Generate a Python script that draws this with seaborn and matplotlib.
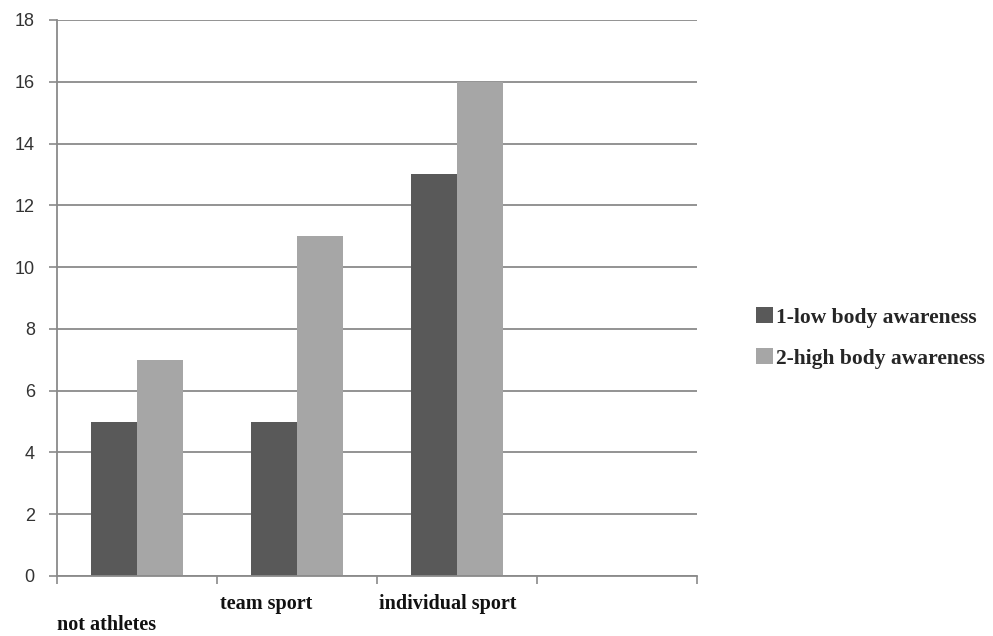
import matplotlib
matplotlib.use("Agg")
import matplotlib.pyplot as plt
import seaborn as sns
import pandas as pd

categories = ["not athletes", "team sport", "individual sport"]
low_awareness = [5, 5, 13]
high_awareness = [7, 11, 16]
series_names = ["1-low body awareness", "2-high body awareness"]
y_ticks = [0, 2, 4, 6, 8, 10, 12, 14, 16, 18]

df = pd.DataFrame({
    "group": categories * 2,
    "count": low_awareness + high_awareness,
    "awareness": [series_names[0]] * 3 + [series_names[1]] * 3,
})

sns.set_theme(style="white")
plt.rcParams["font.family"] = ["DejaVu Sans"]

fig = plt.figure(figsize=(9.93, 6.36), dpi=100)
ax = fig.add_axes([57 / 993, 1 - 576 / 636, 640 / 993, 556 / 636])

palette = {series_names[0]: "#595959", series_names[1]: "#a6a6a6"}
sns.barplot(data=df, x="group", y="count", hue="awareness", order=categories,
            hue_order=series_names, palette=palette, width=0.57, saturation=1,
            edgecolor="none", linewidth=0, ax=ax, legend=True)

ax.set_xlim(-0.5, 3.5)
ax.set_ylim(0, 18)
ax.set_yticks(y_ticks)
ax.set_yticklabels([str(t) for t in y_ticks], fontsize=13, color="#333333",
                   family="Liberation Sans")
ax.tick_params(axis="y", length=6, width=1.2, color="#8a8a8a", pad=10, left=True)
ax.yaxis.grid(True, color="#8a8a8a", linewidth=1.3)
ax.set_axisbelow(True)

# category boundary ticks
ax.set_xticks([-0.5, 0.5, 1.5, 2.5, 3.5])
ax.set_xticklabels([])
ax.tick_params(axis="x", length=6, width=1.2, color="#8a8a8a", bottom=True)
ax.set_xlabel("")
ax.set_ylabel("")

for side in ["top", "right"]:
    ax.spines[side].set_visible(False)
for side in ["left", "bottom"]:
    ax.spines[side].set_color("#8a8a8a")
    ax.spines[side].set_linewidth(1.3)

# staggered category labels, left aligned at slot boundaries
label_font = dict(family="Liberation Serif", fontweight="bold", fontsize=14.5,
                  color="#111111", ha="left", va="center")
trans = ax.get_xaxis_transform()
ax.text(-0.5, -0.089, categories[0], transform=trans, **label_font)
ax.text(0.52, -0.05, categories[1], transform=trans, **label_font)
ax.text(1.51, -0.05, categories[2], transform=trans, **label_font)

handles, labels = ax.get_legend_handles_labels()
ax.get_legend().remove()
fig.legend(handles, labels, loc="center left", bbox_to_anchor=(737 / 993, 1 - 338 / 636),
           frameon=False, handlelength=0.75, handleheight=0.75, handletextpad=0.15,
           labelspacing=0.95,
           prop=dict(family="Liberation Serif", weight="bold", size=15.5))

fig.savefig("out.png", dpi=100)
